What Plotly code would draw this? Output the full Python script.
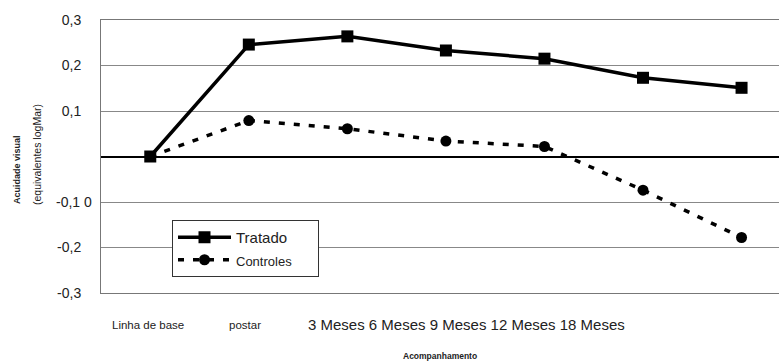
import plotly.graph_objects as go

categories = ["Linha de base", "postar", "3 Meses", "6 Meses", "9 Meses", "12 Meses", "18 Meses"]
tratado = [0.0, 0.246, 0.264, 0.233, 0.215, 0.173, 0.151]
controles = [0.0, 0.079, 0.061, 0.034, 0.022, -0.074, -0.178]
y_tickvals = [0.3, 0.2, 0.1, 0.0, -0.1, -0.2, -0.3]
y_ticktext = ["0,3", "0,2", "0,1", "", "", "-0,2", "-0,3"]
odd_label = "-0,1 0"   # label printed at -0.1 in the original

W, H = 779, 362
L, T, B = 101, 20, 69
pw = W - L
FONT = "Arial, Liberation Sans, sans-serif"
TXT = "#222"
NB = "\u00a0"

def px(xp):
    return (xp - L) / pw

def py(yp):
    return (H - B - yp) / (H - B - T)

fig = go.Figure()
fig.add_trace(go.Scatter(
    x=categories, y=tratado, name="Tratado" + NB * 6, mode="lines+markers",
    line=dict(color="black", width=3.5),
    marker=dict(symbol="square", size=12, color="black"),
))
fig.add_trace(go.Scatter(
    x=categories, y=controles, name="<span style='font-size:13px'>Controles</span>",
    mode="lines+markers",
    line=dict(color="black", width=3.5, dash="6px,9px"),
    marker=dict(symbol="circle", size=11, color="black"),
))

fig.update_layout(
    width=W, height=H,
    margin=dict(l=L, r=0, t=T, b=B),
    paper_bgcolor="white", plot_bgcolor="white",
    font=dict(family=FONT, color=TXT),
    showlegend=True,
    legend=dict(
        x=px(172), y=py(220), xanchor="left", yanchor="top",
        bgcolor="white", bordercolor="#333", borderwidth=1,
        font=dict(family=FONT, size=15, color=TXT),
        itemwidth=53, tracegroupgap=0,
    ),
    xaxis=dict(
        type="category", categoryorder="array", categoryarray=categories,
        range=[-0.5, 6.38], showticklabels=False, showgrid=False, zeroline=False,
        showline=True, linecolor="#777", linewidth=1, mirror=True, ticks="",
    ),
    xaxis2=dict(
        overlaying="x", anchor="free", position=0.5, range=[-0.5, 6.38],
        tickvals=[0.5, 1.5, 2.5, 3.5, 4.5, 5.5], ticks="outside", ticklen=5,
        tickcolor="black", tickwidth=1, showticklabels=False, showgrid=False,
        zeroline=False, showline=False,
    ),
    yaxis=dict(
        range=[-0.3, 0.3], tickvals=y_tickvals, ticktext=y_ticktext,
        showgrid=True, gridcolor="#888", gridwidth=1,
        zeroline=True, zerolinecolor="black", zerolinewidth=2,
        showline=True, linecolor="#777", linewidth=1,
        ticks="outside", ticklen=16, tickcolor="rgba(0,0,0,0)",
        tickfont=dict(family=FONT, size=14, color=TXT),
    ),
)

fig.add_annotation(
    text=odd_label, xref="paper", yref="y", x=px(54), y=-0.1, xanchor="left",
    yanchor="middle", showarrow=False, font=dict(family=FONT, size=14, color=TXT),
)

annotations = [
    dict(text="Linha de base", x=px(148), y=325, size=11.5, anchor="center"),
    dict(text="postar", x=px(245), y=325, size=11.5, anchor="center"),
    dict(text="3 Meses 6 Meses 9 Meses 12 Meses 18 Meses", x=px(466), y=324, size=15, anchor="center"),
    dict(text="<b>Acompanhamento</b>", x=px(401), y=356, size=8.5, anchor="left"),
]
for a in annotations:
    fig.add_annotation(
        text=a["text"], xref="paper", yref="paper", x=a["x"],
        y=py(a["y"]), xanchor=a["anchor"], yanchor="middle",
        showarrow=False, font=dict(family=FONT, size=a["size"], color=TXT),
    )

fig.add_annotation(
    text="<b>Acuidade visual</b>", xref="paper", yref="paper",
    x=px(17), y=py(170), xanchor="center", yanchor="middle",
    textangle=-90, showarrow=False, font=dict(family=FONT, size=9, color=TXT),
)
fig.add_annotation(
    text="(equivalentes logMar)", xref="paper", yref="paper",
    x=px(37), y=py(155), xanchor="center", yanchor="middle",
    textangle=-90, showarrow=False, font=dict(family=FONT, size=10.5, color=TXT),
)

fig.write_html(
    "out.html",
    config={"displayModeBar": False},
    post_script="document.body.style.margin='0';document.body.style.padding='0';",
)
